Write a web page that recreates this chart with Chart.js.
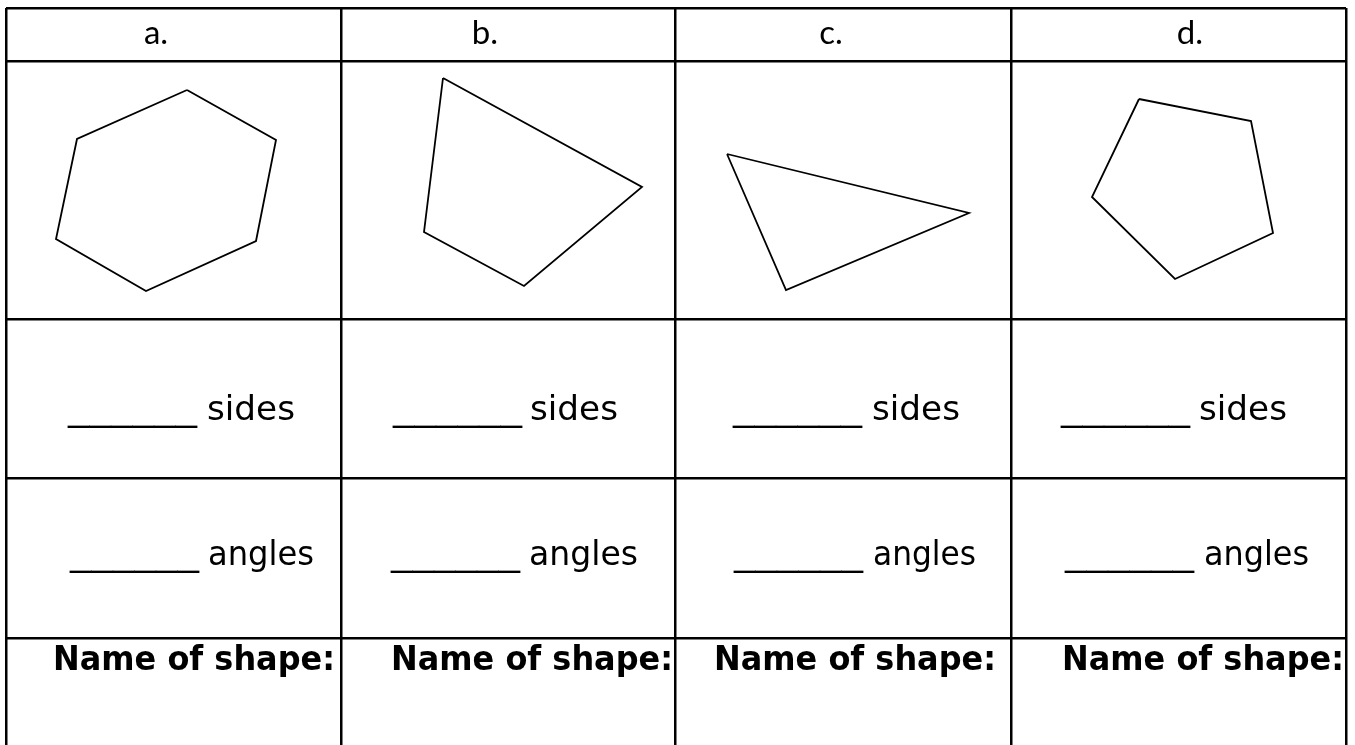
<!DOCTYPE html>
<html>
<head>
<meta charset="utf-8">
<title>Name the shapes</title>
<script src="https://cdn.jsdelivr.net/npm/chart.js@4.4.1/dist/chart.umd.min.js"></script>
<style>
html, body { margin: 0; padding: 0; background: #fff; }
canvas { display: block; }
</style>
</head>
<body>
<canvas id="sheet" width="1355" height="745"></canvas>
<script>
// Texts of the worksheet
const letters = ['a.', 'b.', 'c.', 'd.'];
const blank = '______';
const sidesWord = 'sides';
const anglesWord = 'angles';
const nameLabel = 'Name of shape:';

// Corners of each shape (page pixels, y down)
const hexagon = [[187, 90], [276, 140], [256, 241], [146, 291], [56, 239], [77, 139]];
const quad = [[443, 78], [642, 187], [524, 286], [424, 232]];
const triangle = [[727, 154], [969, 213], [786, 290]];
const pentagon = [[1139, 99], [1251, 121], [1273, 233], [1175, 279], [1092, 197]];

// Table edges
const colEdges = [6, 341, 675, 1011, 1346];
const rowEdges = [8, 61, 319, 478, 638];

// Where the texts sit in each column
const layout = {
    headerX: [156, 485, 831, 1190], headerBase: 44,
    sidesBase: 420, sidesBlankX: [68, 393, 733, 1061], sidesWordX: [207, 530, 872, 1199], sidesWordW: [88, 88, 88, 88],
    anglesBase: 565, anglesBlankX: [70, 391, 734, 1065], anglesWordX: [208, 529, 873, 1204], anglesWordW: [106, 109, 103, 105],
    blankW: 129,
    nameBase: 670, nameX: [53, 391, 714, 1062], nameW: 282
};

function closed(pts) {
    const out = pts.map(p => ({ x: p[0], y: p[1] }));
    out.push({ x: pts[0][0], y: pts[0][1] });
    return out;
}

function shapeSet(pts) {
    return {
        data: closed(pts),
        showLine: true,
        borderColor: '#000',
        borderWidth: 1.8,
        borderJoinStyle: 'miter',
        pointRadius: 0,
        fill: false,
        tension: 0
    };
}

// Texts go under the grid lines, clipped to the table
const cellText = {
    id: 'cellText',
    beforeDraw(chart) {
        const ctx = chart.ctx;
        const sx = chart.scales.x, sy = chart.scales.y;
        const area = chart.chartArea;
        ctx.save();
        ctx.beginPath();
        ctx.rect(area.left, area.top, area.right - area.left, area.bottom - area.top);
        ctx.clip();
        ctx.fillStyle = '#000';
        ctx.textBaseline = 'alphabetic';

        ctx.font = '33px Lato';
        ctx.textAlign = 'center';
        letters.forEach((t, i) => {
            ctx.fillText(t, sx.getPixelForValue(layout.headerX[i]), sy.getPixelForValue(layout.headerBase));
        });

        ctx.textAlign = 'left';
        const fit = (t, left, width, base) => {
            const x0 = sx.getPixelForValue(left);
            const w = sx.getPixelForValue(left + width) - x0;
            const tw = ctx.measureText(t).width;
            ctx.save();
            ctx.translate(x0, sy.getPixelForValue(base));
            ctx.scale(w / tw, 1);
            ctx.fillText(t, 0, 0);
            ctx.restore();
        };

        ctx.font = '34px "DejaVu Sans"';
        for (let i = 0; i < 4; i++) {
            fit(blank, layout.sidesBlankX[i], layout.blankW, layout.sidesBase);
            fit(sidesWord, layout.sidesWordX[i], layout.sidesWordW[i], layout.sidesBase);
            fit(blank, layout.anglesBlankX[i], layout.blankW, layout.anglesBase);
            fit(anglesWord, layout.anglesWordX[i], layout.anglesWordW[i], layout.anglesBase);
        }

        ctx.font = 'bold 33px "DejaVu Sans"';
        for (let i = 0; i < 4; i++) {
            fit(nameLabel, layout.nameX[i], layout.nameW, layout.nameBase);
        }
        ctx.restore();
    }
};

const gridOpts = { color: '#000', lineWidth: 2.5, drawTicks: false };

const chart = new Chart(document.getElementById('sheet').getContext('2d'), {
    type: 'scatter',
    data: {
        datasets: [shapeSet(hexagon), shapeSet(quad), shapeSet(triangle), shapeSet(pentagon)]
    },
    options: {
        responsive: false,
        animation: false,
        layout: { padding: { left: colEdges[0], right: 1355 - colEdges[4], top: rowEdges[0], bottom: 0 } },
        scales: {
            x: {
                type: 'linear',
                min: colEdges[0],
                max: colEdges[4],
                ticks: { display: false },
                grid: gridOpts,
                border: { display: false },
                afterBuildTicks: s => { s.ticks = colEdges.map(v => ({ value: v })); },
                afterFit: s => { s.height = 0; }
            },
            y: {
                type: 'linear',
                min: rowEdges[0],
                max: 745,
                reverse: true,
                ticks: { display: false },
                grid: gridOpts,
                border: { display: false },
                afterBuildTicks: s => { s.ticks = rowEdges.map(v => ({ value: v })); },
                afterFit: s => { s.width = 0; }
            }
        },
        plugins: {
            legend: { display: false },
            tooltip: { enabled: false }
        }
    },
    plugins: [cellText]
});
</script>
</body>
</html>
